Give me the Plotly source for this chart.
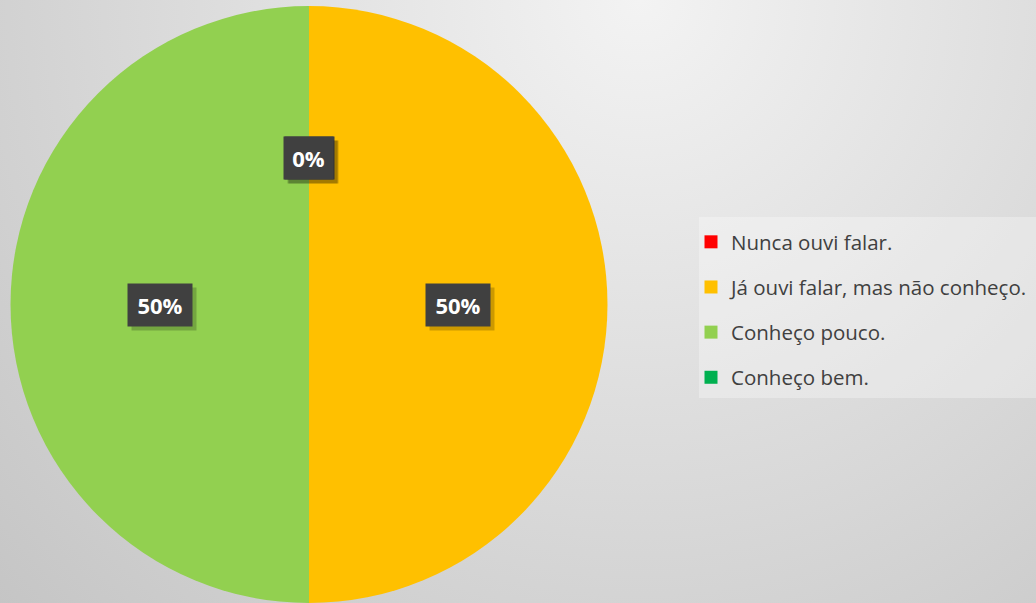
import math
import plotly.graph_objects as go

categorias = ["Nunca ouvi falar.", "Já ouvi falar, mas não conheço.", "Conheço pouco.", "Conheço bem."]
valores = [0, 1, 1, 0]
cores = ["#FF0000", "#FFC000", "#92D050", "#00B050"]

W, H = 1036, 603
dom_x = [10 / W, 608 / W]
dom_y = [0.0, 0.99]

fundo = (
    "data:image/svg+xml;utf8,"
    "<svg xmlns='http://www.w3.org/2000/svg' width='1036' height='603'>"
    "<defs><radialGradient id='g' gradientUnits='userSpaceOnUse' cx='640' cy='0' r='900'>"
    "<stop offset='0' stop-color='%23f3f3f3'/><stop offset='1' stop-color='%23c4c4c4'/>"
    "</radialGradient></defs><rect width='1036' height='603' fill='url(%23g)'/></svg>"
)

fig = go.Figure()
fig.add_trace(go.Pie(
    labels=categorias,
    values=valores,
    marker=dict(colors=cores, line=dict(width=0)),
    sort=False,
    direction="clockwise",
    rotation=0,
    textinfo="none",
    hoverinfo="label+percent",
    showlegend=False,
    domain=dict(x=dom_x, y=dom_y),
))

# entradas da legenda (uma por grupo para espaçar os itens)
for i, (cat, cor) in enumerate(zip(categorias, cores)):
    fig.add_trace(go.Scatter(
        x=[None], y=[None], mode="markers", name=cat,
        marker=dict(symbol="square", size=13, color=cor),
        legendgroup=f"g{i}", showlegend=True, hoverinfo="skip",
    ))

# rótulos de percentagem, a meio raio no ângulo médio de cada fatia
cx = (dom_x[0] + dom_x[1]) / 2 * W
cy = (dom_y[0] + dom_y[1]) / 2 * H
raio = min((dom_x[1] - dom_x[0]) * W, (dom_y[1] - dom_y[0]) * H) / 2
total = sum(valores)
acum = 0
for v in valores:
    frac = v / total
    ang = (acum + frac / 2) * 2 * math.pi  # a partir das 12h, sentido horário
    acum += frac
    px = cx + 0.5 * raio * math.sin(ang)
    py = cy + 0.49 * raio * math.cos(ang)
    txt = f"{frac * 100:.0f}%"
    larg = 15 * len(txt) + 5
    comum = dict(x=px / W, y=py / H, xref="paper", yref="paper",
                 showarrow=False, xanchor="center", yanchor="middle",
                 width=larg, height=28, borderpad=7)
    # sombra
    fig.add_annotation(**comum, text=" ", bgcolor="rgba(0,0,0,0.2)", xshift=4, yshift=-4)
    fig.add_annotation(**comum, text=f"<b>{txt}</b>",
                       font=dict(family="Open Sans", size=22, color="white"),
                       bgcolor="#404040")

fig.update_layout(
    width=W, height=H,
    margin=dict(l=0, r=0, t=0, b=0),
    paper_bgcolor="#dcdcdc",
    plot_bgcolor="rgba(0,0,0,0)",
    xaxis=dict(visible=False),
    yaxis=dict(visible=False),
    images=[dict(source=fundo, xref="paper", yref="paper", x=0, y=1, sizex=1, sizey=1,
                 sizing="stretch", layer="below", xanchor="left", yanchor="top")],
    shapes=[dict(type="rect", xref="paper", yref="paper",
                 x0=699 / W, x1=1, y0=1 - 398 / H, y1=1 - 217 / H,
                 fillcolor="rgba(255,255,255,0.3)", line=dict(width=0), layer="below")],
    legend=dict(
        x=691 / W, y=1 - 222 / H, xanchor="left", yanchor="top",
        bgcolor="rgba(0,0,0,0)", tracegroupgap=15.5,
        font=dict(family="Open Sans", size=20.5, color="#404040"),
    ),
)

fig.write_html("out.html", config={"displayModeBar": False},
               post_script="document.body.style.margin='0';")
